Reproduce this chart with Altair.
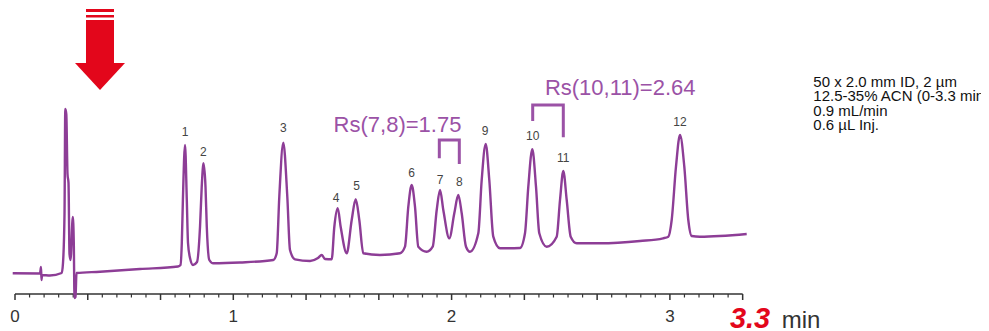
import altair as alt
import pandas as pd

# ---------------- data ----------------
# chromatogram trace (time in min, signal in arbitrary units)
trace_t = [-0.0105, 0.1145, 0.1191, 0.1214, 0.1237, 0.160, 0.2139, 0.2199, 0.2268, 0.2304,
           0.2350, 0.2405, 0.2451, 0.2497, 0.2542, 0.2648, 0.2694, 0.2726, 0.2771, 0.2817,
           0.3894, 0.5726, 0.7467, 0.7581, 0.7641, 0.7691, 0.7788, 0.7870, 0.7925, 0.8017,
           0.8154, 0.8337, 0.8475, 0.8553, 0.8635, 0.8727, 0.8786, 0.8901, 0.9084, 1.0307,
           1.1832, 1.1988, 1.2107, 1.2290, 1.2474, 1.2597, 1.2826, 1.3514, 1.3880, 1.4050,
           1.4201, 1.4507, 1.4627, 1.4782, 1.4920, 1.5195, 1.5424, 1.5607, 1.5772, 1.5955,
           1.6720, 1.7636, 1.7865, 1.8017, 1.8172, 1.8323, 1.8475, 1.8859, 1.9134, 1.9318,
           1.9469, 1.9620, 1.9895, 2.0124, 2.0307, 2.0463, 2.0660, 2.0843, 2.1223, 2.1379,
           2.1562, 2.1727, 2.1910, 2.2217, 2.3133, 2.3362, 2.3514, 2.3697, 2.3866, 2.4017,
           2.4356, 2.4814, 2.4966, 2.5117, 2.5273, 2.5456, 2.5731, 2.6798, 2.8630, 2.9684,
           2.9927, 3.0082, 3.0279, 3.0463, 3.0660, 3.0843, 3.0999, 3.1379, 3.3518]
trace_s = [20.7, 20.5, 27, 14, 19, 18.5, 21, 31, 80, 185,
           180, 120, 111, 40, 34, 77, 50, -4, -3, 21,
           22.3, 25, 27.5, 29, 51, 94, 149, 94, 51, 36,
           29, 32, 67, 107, 130.7, 107, 67, 34, 30.7, 31.5,
           34, 40.7, 97.3, 151.3, 97.3, 44, 34.7, 33, 36, 39,
           35, 34.7, 67, 85.7, 67, 40.7, 74, 94.7, 74, 40.7,
           39, 40.7, 47.3, 87.3, 109, 87.3, 47.3, 42.3, 47.3, 84,
           104, 84, 55.7, 80.7, 99, 80.7, 47.3, 42.3, 60.7, 114,
           150, 114, 57.3, 45.7, 46, 60.7, 107.3, 144.7, 107.3, 60.7,
           47.3, 57.3, 94, 123, 94, 57.3, 50.7, 50.7, 53, 55.7,
           57.3, 74, 127.3, 159, 127.3, 74, 58, 57.3, 60]

# peak numbers and label positions
peak_names = ["1", "2", "3", "4", "5", "6", "7", "8", "9", "10", "11", "12"]
peak_label_t = [0.7788, 0.8626, 1.2290, 1.4704, 1.5653, 1.8172, 1.9469, 2.0353, 2.1530, 2.3715, 2.5117, 3.0463]
peak_label_s = [162.3, 142.3, 165.7, 96.3, 108, 120.7, 114, 112.3, 163.3, 158, 135.7, 172.3]

# resolution annotations
rs_texts = ["Rs(7,8)=1.75", "Rs(10,11)=2.64"]
rs_t = [1.7522, 2.7723]
rs_s = [169, 205.7]
# brackets: (group, t, s)
bracket_group = ["a", "a", "a", "a", "b", "b", "b", "b"]
bracket_t = [1.9437, 1.9437, 2.0353, 2.0353, 2.3715, 2.3715, 2.5117, 2.5117]
bracket_s = [135.7, 154, 154, 130, 173, 189, 189, 156.7]

# x-axis
tick_label_values = [0, 1, 2, 3]
axis_end = 10 / 3
major_ticks = [i / 3 for i in range(11)]
minor_ticks = [i / 15 for i in range(51) if i % 5 != 0]

# method conditions
info_lines = ["50 x 2.0 mm ID, 2 µm", "12.5-35% ACN (0-3.3 min)", "0.9 mL/min", "0.6 µL Inj."]
info_s = [207.5, 193, 178.5, 164]
info_t = 3.6569

# injection arrow (time / signal units)
arrow_bar_t = [0.3252, 0.4535]
arrow_bars_s = [(285, 282), (279, 276.5), (274, 271), (271, 229)]
arrow_head_t = [0.2749, 0.3894, 0.5039]
arrow_head_s = [231, 204, 231]

# ---------------- styling ----------------
PURPLE = "#8d3d96"
PURPLE_TXT = "#9b52a6"
RED = "#e3061b"
GRAY = "#333333"
FONT = "Liberation Sans"

W = 973
X0 = -7 / 218.3
X1 = X0 + W / 218.3
xs = alt.Scale(domain=[X0, X1], nice=False, zero=False)
ys = alt.Scale(domain=[-37, 286], nice=False, zero=False)


def X(f="t"):
    return alt.X(f"{f}:Q", scale=xs, axis=None)


def Y(f="s"):
    return alt.Y(f"{f}:Q", scale=ys, axis=None)


trace_df = pd.DataFrame({"t": trace_t, "s": trace_s})
trace = alt.Chart(trace_df).mark_line(
    color=PURPLE, strokeWidth=2.4, interpolate="monotone", strokeJoin="round"
).encode(x=X(), y=Y())

axis_df = pd.DataFrame({"t": [0.0], "t2": [axis_end], "s": [0.0]})
axis_line = alt.Chart(axis_df).mark_rule(color=GRAY, strokeWidth=1.6).encode(
    x=X(), x2="t2:Q", y=Y()
)

major_df = pd.DataFrame({"t": major_ticks, "s": [0.0] * len(major_ticks), "s2": [-6.0] * len(major_ticks)})
minor_df = pd.DataFrame({"t": minor_ticks, "s": [0.0] * len(minor_ticks), "s2": [-3.5] * len(minor_ticks)})
major = alt.Chart(major_df).mark_rule(color=GRAY, strokeWidth=1.5).encode(x=X(), y=Y(), y2="s2:Q")
minor = alt.Chart(minor_df).mark_rule(color=GRAY, strokeWidth=1.2).encode(x=X(), y=Y(), y2="s2:Q")

tl_df = pd.DataFrame({"t": tick_label_values, "s": [-23] * 4, "lab": [str(v) for v in tick_label_values]})
tick_labels = alt.Chart(tl_df).mark_text(
    font=FONT, fontSize=17, color=GRAY, baseline="middle", align="center"
).encode(x=X(), y=Y(), text="lab:N")

end_df = pd.DataFrame({"t": [3.3671], "s": [-34], "lab": ["3.3"]})
end_label = alt.Chart(end_df).mark_text(
    font=FONT, fontSize=29, fontWeight="bold", fontStyle="italic", color=RED,
    baseline="alphabetic", align="center"
).encode(x=X(), y=Y(), text="lab:N")
min_df = pd.DataFrame({"t": [3.512], "s": [-34], "lab": ["min"]})
min_label = alt.Chart(min_df).mark_text(
    font=FONT, fontSize=24, color=GRAY, baseline="alphabetic", align="left"
).encode(x=X(), y=Y(), text="lab:N")

pk_df = pd.DataFrame({"t": peak_label_t, "s": peak_label_s, "lab": peak_names})
peak_labels = alt.Chart(pk_df).mark_text(
    font=FONT, fontSize=12, color="#444444", baseline="middle", align="center"
).encode(x=X(), y=Y(), text="lab:N")

rs_df = pd.DataFrame({"t": rs_t, "s": rs_s, "lab": rs_texts})
rs_labels = alt.Chart(rs_df).mark_text(
    font=FONT, fontSize=22, color=PURPLE_TXT, baseline="middle", align="center"
).encode(x=X(), y=Y(), text="lab:N")

br_df = pd.DataFrame({"g": bracket_group, "t": bracket_t, "s": bracket_s,
                      "o": list(range(len(bracket_t)))})
brackets = alt.Chart(br_df).mark_line(
    color=PURPLE_TXT, strokeWidth=3, strokeCap="butt", strokeJoin="miter"
).encode(x=X(), y=Y(), detail="g:N", order="o:Q")

info_df = pd.DataFrame({"t": [info_t] * len(info_lines), "s": info_s, "lab": info_lines})
info = alt.Chart(info_df).mark_text(
    font=FONT, fontSize=15, color="#111111", baseline="alphabetic", align="left"
).encode(x=X(), y=Y(), text="lab:N")

bars_df = pd.DataFrame({
    "t": [arrow_bar_t[0]] * len(arrow_bars_s),
    "t2": [arrow_bar_t[1]] * len(arrow_bars_s),
    "s": [b[0] for b in arrow_bars_s],
    "s2": [b[1] for b in arrow_bars_s],
})
arrow_bars = alt.Chart(bars_df).mark_rect(color=RED).encode(x=X(), x2="t2:Q", y=Y(), y2="s2:Q")

head_df = pd.DataFrame({"t": arrow_head_t, "s": arrow_head_s, "s2": [231] * 3})
arrow_head = alt.Chart(head_df).mark_area(color=RED, opacity=1, interpolate="linear").encode(
    x=X(), y=Y(), y2="s2:Q"
)

chart = alt.layer(
    arrow_bars, arrow_head, axis_line, minor, major, tick_labels, end_label, min_label,
    trace, peak_labels, brackets, rs_labels, info
).properties(
    width=W, height=323, padding=0,
    autosize=alt.AutoSizeParams(type="none"),
    background="white",
).configure_view(stroke=None)

chart.save("out.html", embed_options={"renderer": "svg", "actions": False})
